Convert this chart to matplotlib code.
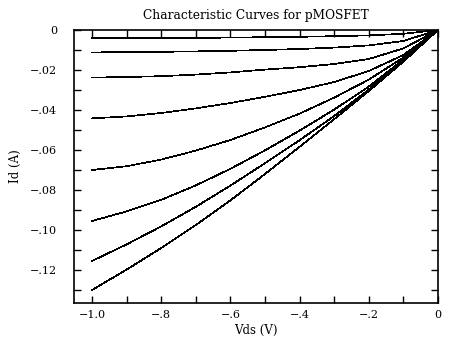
import numpy as np
import matplotlib
matplotlib.use("Agg")
import matplotlib.pyplot as plt
from matplotlib.ticker import FixedLocator, FixedFormatter, MultipleLocator

# drain-source voltage sweep
vds = [-1.0, -0.9, -0.8, -0.7, -0.6, -0.5, -0.4, -0.3, -0.2, -0.1, 0.0]

# drain current for each gate step (A)
id_1 = [-0.0041, -0.0040, -0.0039, -0.0039, -0.0038, -0.0036, -0.0034, -0.0031, -0.0027, -0.0019, 0.0]
id_2 = [-0.0112, -0.0111, -0.0109, -0.0107, -0.0104, -0.0100, -0.0095, -0.0088, -0.0077, -0.0055, 0.0]
id_3 = [-0.0238, -0.0235, -0.0231, -0.0223, -0.0212, -0.0198, -0.0186, -0.0170, -0.0145, -0.0092, 0.0]
id_4 = [-0.0442, -0.0432, -0.0415, -0.0392, -0.0365, -0.0334, -0.0300, -0.0260, -0.0205, -0.0125, 0.0]
id_5 = [-0.0700, -0.0681, -0.0648, -0.0603, -0.0550, -0.0487, -0.0418, -0.0338, -0.0248, -0.0138, 0.0]
id_6 = [-0.0955, -0.0907, -0.0849, -0.0777, -0.0694, -0.0602, -0.0503, -0.0398, -0.0283, -0.0148, 0.0]
id_7 = [-0.1155, -0.1072, -0.0982, -0.0884, -0.0778, -0.0666, -0.0551, -0.0430, -0.0298, -0.0153, 0.0]
id_8 = [-0.1300, -0.1198, -0.1090, -0.0975, -0.0852, -0.0720, -0.0584, -0.0446, -0.0305, -0.0158, 0.0]
curves = [id_1, id_2, id_3, id_4, id_5, id_6, id_7, id_8]

xticks = [-1.0, -0.8, -0.6, -0.4, -0.2, 0.0]
xtick_labels = ["\u22121.0", "\u2212.8", "\u2212.6", "\u2212.4", "\u2212.2", "0"]
yticks = [0.0, -0.02, -0.04, -0.06, -0.08, -0.10, -0.12]
ytick_labels = ["0", "\u2212.02", "\u2212.04", "\u2212.06", "\u2212.08", "\u2212.10", "\u2212.12"]

plt.rcParams["font.family"] = "DejaVu Serif"
plt.rcParams["font.size"] = 8

fig = plt.figure(figsize=(4.53, 3.43), dpi=100)
ax = fig.add_axes([74 / 453, 1 - 303 / 343, 364 / 453, 273 / 343])

for cur in curves:
    ax.plot(vds, cur, color="black", linewidth=0.5, antialiased=False)

ax.set_xlim(-1.052, 0.0)
ax.set_ylim(-0.1365, 0.0)

ax.xaxis.set_major_locator(FixedLocator(xticks))
ax.xaxis.set_major_formatter(FixedFormatter(xtick_labels))
ax.xaxis.set_minor_locator(MultipleLocator(0.1))
ax.yaxis.set_major_locator(FixedLocator(yticks))
ax.yaxis.set_major_formatter(FixedFormatter(ytick_labels))
ax.yaxis.set_minor_locator(MultipleLocator(0.01))

ax.tick_params(which="both", direction="in", length=5, width=1,
               top=True, right=True, color="black")
ax.tick_params(axis="x", pad=5)
ax.tick_params(axis="y", pad=12)
for sp in ax.spines.values():
    sp.set_linewidth(1.2)

ax.set_title("Characteristic Curves for pMOSFET", fontsize=8.8, pad=8)
ax.set_xlabel("Vds (V)", fontsize=8.5)
ax.set_ylabel("Id (A)", fontsize=8.5)
ax.xaxis.set_label_coords(0.5, -0.075)
ax.yaxis.set_label_coords(-0.143, 0.5)
ax.xaxis.label.set_verticalalignment("top")

fig.savefig("out.png", dpi=100)
